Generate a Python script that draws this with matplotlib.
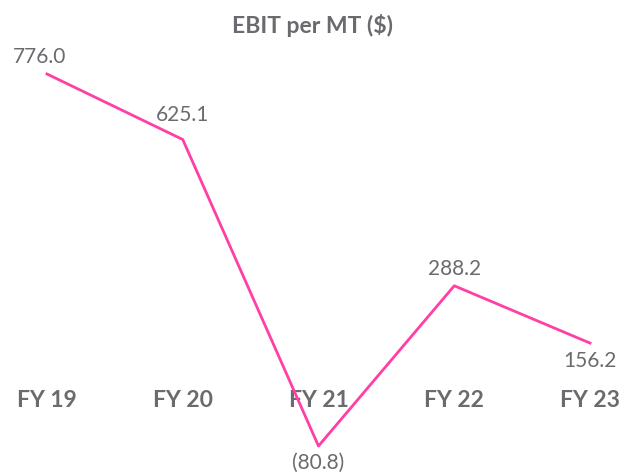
import matplotlib
matplotlib.use("Agg")
import matplotlib.pyplot as plt
import matplotlib.transforms as mtransforms

categories = ["FY 19", "FY 20", "FY 21", "FY 22", "FY 23"]
ebit_per_mt = [776.0, 625.1, -80.8, 288.2, 156.2]
value_labels = ["776.0", "625.1", "(80.8)", "288.2", "156.2"]

TEXT_GRAY = "#6b6b6f"
LINE_PINK = "#ff3fa6"

plt.rcParams["font.family"] = ["Lato", "DejaVu Sans"]

fig = plt.figure(figsize=(6.26, 4.76), dpi=100)
ax = fig.add_axes([0, 0, 1, 1])

x = list(range(len(categories)))

# category labels sit under the line, line drawn on top of them
trans = mtransforms.blended_transform_factory(ax.transData, ax.transAxes)
for xi, cat in zip(x, categories):
    ax.text(xi, 0.158, cat, transform=trans, ha="center", va="center",
            fontsize=16.5, fontweight="bold", color=TEXT_GRAY, zorder=1)

ax.plot(x, ebit_per_mt, color=LINE_PINK, linewidth=2, zorder=3)

# offsets (points) for each value label
offsets = [(-5, 12), (0, 18), (0, -12), (0, 12), (0, -13)]
for xi, val, lab, off in zip(x, ebit_per_mt, value_labels, offsets):
    ax.annotate(lab, (xi, val), xytext=off, textcoords="offset points",
                ha="center", va="center", fontsize=15, color=TEXT_GRAY)

ax.text(0.5, 0.947, "EBIT per MT ($)", transform=ax.transAxes, ha="center",
        va="center", fontsize=16.5, fontweight="bold", color=TEXT_GRAY)

ax.set_xlim(-0.346, 4.265)
ax.set_ylim(-149.9, 946.4)
ax.axis("off")

fig.savefig("out.png", dpi=100)
